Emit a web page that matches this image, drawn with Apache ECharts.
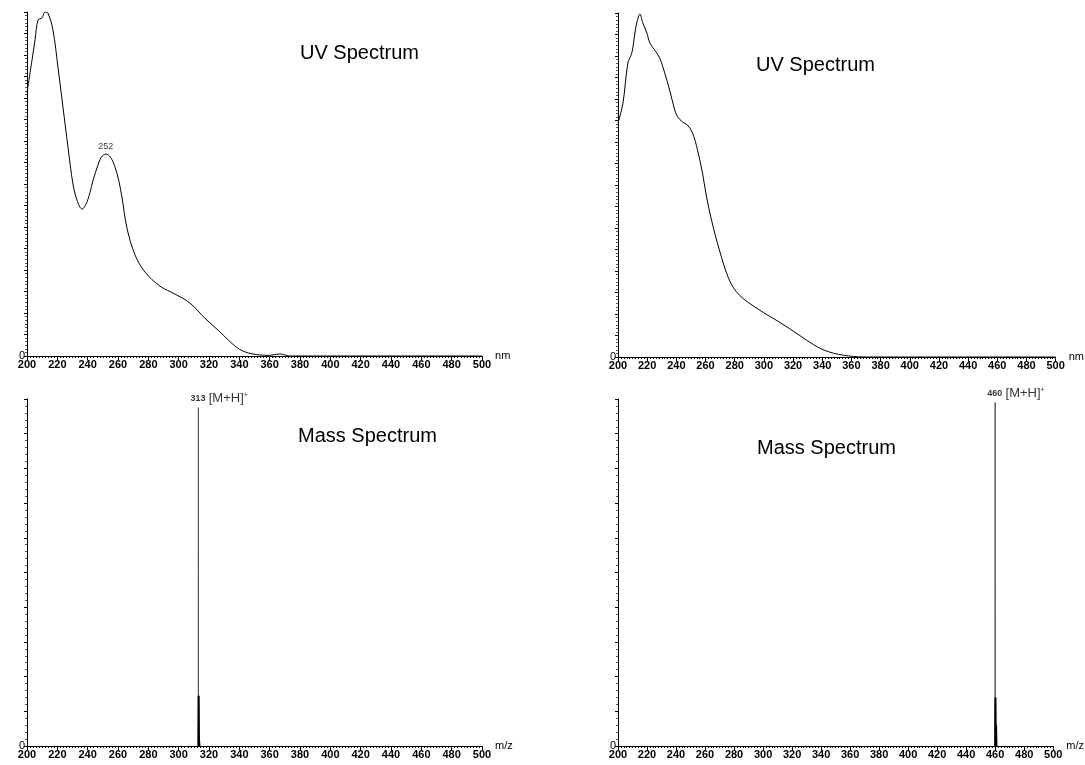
<!DOCTYPE html>
<html>
<head>
<meta charset="utf-8">
<script src="https://cdn.jsdelivr.net/npm/echarts@6/dist/echarts.min.js"></script>
<style>
  html, body { margin: 0; padding: 0; background: #fff; }
  #chart { width: 1085px; height: 765px; }
</style>
</head>
<body>
<div id="chart"></div>
<script>
// UV spectrum, left compound (wavelength nm / relative absorbance)
const uvLeftNm = [200, 203.3, 205.3, 207.3, 209.9, 211.9, 213.8, 217.1, 220.4, 223.7, 227, 230.3, 233, 236.3, 239, 241.5, 243.5, 246.8, 249, 252, 255, 258, 260.5, 262.6, 265.9, 271.2, 277.8, 287.7, 297.6, 307.4, 317.3, 327.2, 337.1, 343.7, 353.6, 360, 366.8, 370, 373.4, 400, 450, 500];
const uvLeftAbs = [76.5, 86, 91.9, 97.7, 98.3, 100, 99.7, 94.8, 84, 72.4, 60.8, 50, 45.3, 42.7, 44.2, 47.5, 51, 55.5, 57.8, 58.7, 57.8, 55, 51, 46.2, 37.2, 29.4, 24.4, 20.3, 18, 15.4, 11, 7, 2.9, 1.2, 0.3, 0.2, 0.6, 0.3, 0, 0, 0, 0];
const uvLeftPeak = [252, 58.7];

// UV spectrum, right compound
const uvRightNm = [200, 203.4, 206.8, 209.5, 211.6, 213, 215, 217, 219.8, 221.8, 225.2, 228.6, 232, 235.4, 238.9, 240.9, 244.3, 247.7, 251.1, 254.5, 257.9, 260.7, 264.1, 269.5, 276.3, 283.2, 296.8, 310.4, 324.1, 334.3, 344.5, 358.1, 371.8, 400, 450, 500];
const uvRightAbs = [68, 73.8, 85.5, 88.4, 94.2, 97.4, 99.7, 97.1, 94.2, 91.3, 89.2, 86.9, 82.6, 77.6, 71.8, 69.8, 68.3, 67.4, 65.1, 60.2, 53.5, 46.5, 39.8, 31.1, 22.4, 18, 13.7, 10.2, 6.4, 3.5, 1.5, 0.3, 0, 0, 0, 0];

// mass spectra (m/z / relative intensity): main [M+H]+ line and the small cluster at its foot
const msLeftMz = [312.9, 313, 313.1];
const msLeftInt = [0, 97.5, 0];
const msLeftFootMz = [313, 313.2, 313.4, 313.7];
const msLeftFootInt = [0, 14.5, 2, 0];
const msLeftPeak = [313, 97.5];

const msRightMz = [459.9, 460, 460.1];
const msRightInt = [0, 99, 0];
const msRightFootMz = [460, 460.2, 460.4, 460.6, 460.9];
const msRightFootInt = [0, 14, 4, 6, 0];
const msRightPeak = [460, 99];

const titles = ['UV Spectrum', 'UV Spectrum', 'Mass Spectrum', 'Mass Spectrum'];
const xNames = ['nm', 'nm', 'm/z', 'm/z'];

const font = 'Liberation Sans, Arial, sans-serif';

const grids = [
  { left: 27, top: 12, width: 455, height: 344 },
  { left: 618, top: 13, width: 440, height: 344 },
  { left: 27, top: 399, width: 455, height: 347 },
  { left: 618, top: 399, width: 440, height: 347 }
];

const titlePos = [[300, 43], [756, 55], [298, 426], [757, 438]];

const xAxes = grids.map((g, i) => ({
  type: 'value', gridIndex: i, min: 200, max: 500, interval: 20,
  name: xNames[i], nameLocation: 'end', nameGap: 1,
  nameTextStyle: { fontSize: 11, color: '#000', fontFamily: font, padding: [4, 0, 0, 0] },
  axisLine: { lineStyle: { color: '#000', width: 1 } },
  axisTick: { length: 4, lineStyle: { color: '#000' } },
  minorTick: { show: true, splitNumber: 10, length: 2, lineStyle: { color: '#000' } },
  splitLine: { show: false },
  axisLabel: { fontSize: 11, fontWeight: 'bold', color: '#000', fontFamily: font, margin: 3 }
}));

const yAxes = grids.map((g, i) => ({
  type: 'value', gridIndex: i, min: 0, max: 100,
  interval: i < 2 ? 6.25 : 10,
  axisLine: { show: true, lineStyle: { color: '#000', width: 1 } },
  axisTick: { show: true, length: 3, lineStyle: { color: '#000' } },
  minorTick: { show: true, splitNumber: i < 2 ? 6 : 5, length: 2, lineStyle: { color: '#555' } },
  splitLine: { show: false },
  axisLabel: {
    fontSize: 11, color: '#000', fontFamily: font, margin: 2,
    formatter: v => (v === 0 ? '0' : '')
  }
}));

const pairs = (xs, ys) => xs.map((x, k) => [x, ys[k]]);

const lineBase = { type: 'line', symbol: 'none', showSymbol: false, animation: false, silent: true };

const peakLabel = {
  show: true, position: 'top', distance: 3,
  fontSize: 9, color: '#000', fontFamily: font, formatter: p => String(p.value[0])
};

const msLabel = {
  show: true, position: 'top', align: 'left', distance: 2, offset: [-8, 0],
  formatter: p => '{a|' + p.value[0] + '} {b|[M+H]}{c|+}',
  rich: {
    a: { fontSize: 9, fontWeight: 'bold', color: '#000', fontFamily: font },
    b: { fontSize: 13, color: '#000', fontFamily: font },
    c: { fontSize: 7, color: '#000', fontFamily: font, verticalAlign: 'top', padding: [0, 0, 7, 0] }
  }
};

const labelBase = { type: 'scatter', symbolSize: 0, animation: false, silent: true };

const chart = echarts.init(document.getElementById('chart'), null, { renderer: 'canvas' });
chart.setOption({
  backgroundColor: '#fff',
  animation: false,
  title: titles.map((t, i) => ({
    text: t, left: titlePos[i][0], top: titlePos[i][1], padding: 0,
    textStyle: { fontSize: 20, fontWeight: 'normal', color: '#000', fontFamily: font }
  })),
  grid: grids,
  xAxis: xAxes,
  yAxis: yAxes,
  series: [
    Object.assign({}, lineBase, { xAxisIndex: 0, yAxisIndex: 0, smooth: 0.35,
      lineStyle: { color: '#000', width: 1 }, data: pairs(uvLeftNm, uvLeftAbs) }),
    Object.assign({}, lineBase, { xAxisIndex: 1, yAxisIndex: 1, smooth: 0.35,
      lineStyle: { color: '#000', width: 1 }, data: pairs(uvRightNm, uvRightAbs) }),
    Object.assign({}, lineBase, { xAxisIndex: 2, yAxisIndex: 2,
      lineStyle: { color: '#555', width: 1 }, data: pairs(msLeftMz, msLeftInt) }),
    Object.assign({}, lineBase, { xAxisIndex: 2, yAxisIndex: 2,
      lineStyle: { color: '#000', width: 2 }, data: pairs(msLeftFootMz, msLeftFootInt) }),
    Object.assign({}, lineBase, { xAxisIndex: 3, yAxisIndex: 3,
      lineStyle: { color: '#555', width: 1 }, data: pairs(msRightMz, msRightInt) }),
    Object.assign({}, lineBase, { xAxisIndex: 3, yAxisIndex: 3,
      lineStyle: { color: '#000', width: 2 }, data: pairs(msRightFootMz, msRightFootInt) }),
    Object.assign({}, labelBase, { xAxisIndex: 0, yAxisIndex: 0, label: peakLabel, data: [uvLeftPeak] }),
    Object.assign({}, labelBase, { xAxisIndex: 2, yAxisIndex: 2, label: msLabel, data: [msLeftPeak] }),
    Object.assign({}, labelBase, { xAxisIndex: 3, yAxisIndex: 3, label: msLabel, data: [msRightPeak] })
  ]
});
</script>
</body>
</html>
